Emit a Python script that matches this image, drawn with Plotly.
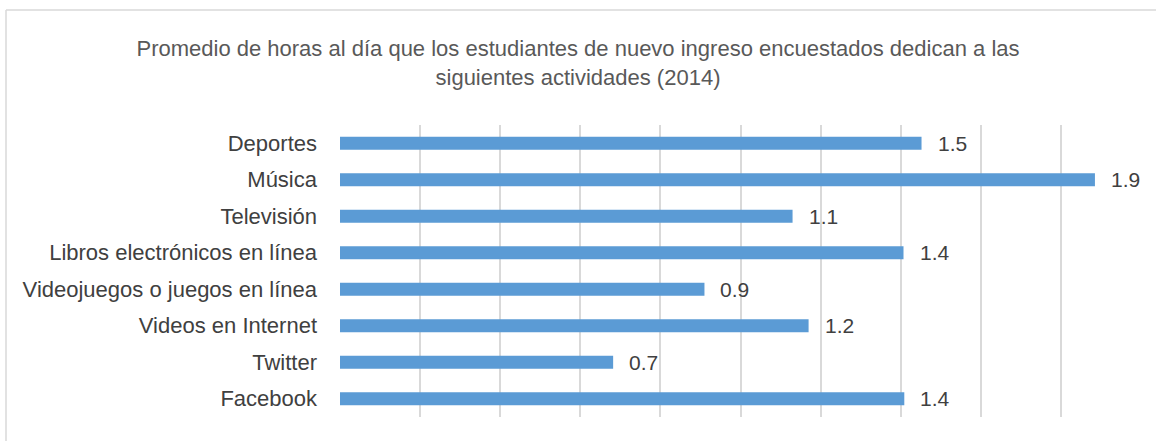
import plotly.graph_objects as go

categories = ["Deportes", "Música", "Televisión", "Libros electrónicos en línea",
              "Videojuegos o juegos en línea", "Videos en Internet", "Twitter", "Facebook"]
values = [1.452, 1.885, 1.13, 1.407, 0.91, 1.17, 0.682, 1.409]
title_text = ("Promedio de horas al día que los estudiantes de nuevo ingreso encuestados dedican a las"
              "<br>siguientes actividades (2014)")

FONT = "Liberation Sans Narrow, Arial Narrow, Liberation Sans, Arial, sans-serif"

W, H = 1156, 441
ML, MR, MT, MB = 340, 15, 125, 24

fig = go.Figure(go.Bar(
    x=values, y=categories, orientation="h",
    marker=dict(color="#5b9bd5", line=dict(width=0)),
    width=0.36, hoverinfo="skip",
))

for c, v in zip(categories, values):
    fig.add_annotation(x=v, y=c, text=f"{v:.1f}", showarrow=False,
                       xanchor="left", yanchor="middle", xshift=14,
                       font=dict(family=FONT, size=21, color="#404040"))

pw = W - ML - MR
ph = H - MT - MB
# chart area border (top and left visible)
x0 = (6 - ML) / pw
y0 = 1 + (MT - 10) / ph
fig.add_shape(type="line", xref="paper", yref="paper", x0=x0, x1=x0, y0=y0, y1=-0.2,
              line=dict(color="#d9d9d9", width=1.5))
fig.add_shape(type="line", xref="paper", yref="paper", x0=x0, x1=1.1, y0=y0, y1=y0,
              line=dict(color="#d9d9d9", width=1.5))

fig.update_layout(
    width=W, height=H,
    margin=dict(l=ML, r=MR, t=MT, b=MB),
    paper_bgcolor="white", plot_bgcolor="white",
    showlegend=False,
    title=dict(text=title_text, x=0.5, xanchor="center", y=1 - 56 / H, yanchor="middle",
               font=dict(family=FONT, size=22, color="#595959")),
    xaxis=dict(range=[0, 2.0], dtick=0.2, showticklabels=False, showgrid=True,
               gridcolor="#d9d9d9", gridwidth=1.5, zeroline=False, showline=False),
    yaxis=dict(autorange="reversed", showgrid=False, zeroline=False, showline=False,
               ticks="", ticklabelstandoff=22,
               tickfont=dict(family=FONT, size=22, color="#404040")),
)

fig.write_html("out.html", config={"displayModeBar": False},
               post_script="document.body.style.margin='0';")
